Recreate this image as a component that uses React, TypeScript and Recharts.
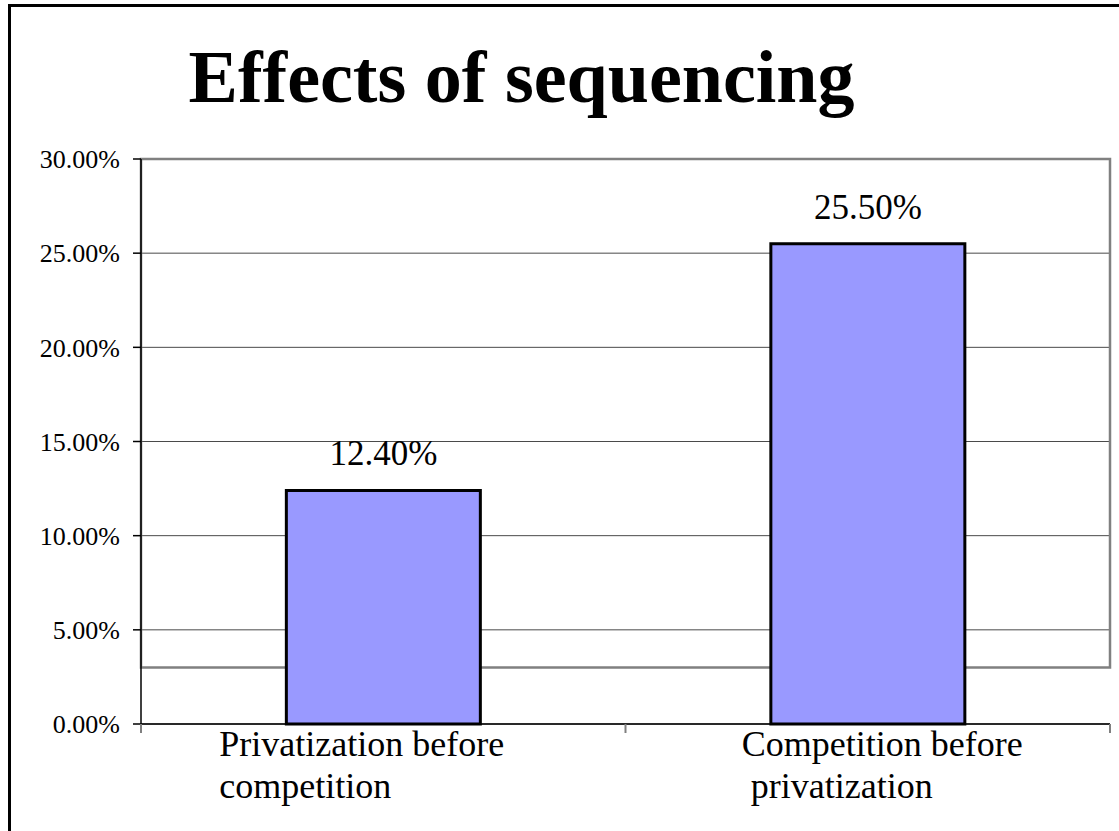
import React from 'react';
import { BarChart, Bar, XAxis, YAxis, CartesianGrid, ReferenceArea, LabelList } from 'recharts';

const title = 'Effects of sequencing';
const categories = ['Privatization before competition', 'Competition before privatization'];
const labelLine1 = ['Privatization before', 'Competition before'];
const labelLine2 = ['competition', ' privatization'];
const values = [12.4, 25.5];
const yTicks = [0, 5, 10, 15, 20, 25, 30];
const plotFrame = [3, 30];

const data = categories.map((c, i) => ({ name: c, value: values[i] }));

const FONT = '"Liberation Serif", "Times New Roman", serif';
const LABEL_SHIFT = [-164, -126];
const pct = (v: number) => `${Number(v).toFixed(2)}%`;

function CategoryTick(props: any) {
  const { x, y, payload, index, visibleTicksCount } = props;
  const half = payload && typeof payload.offset === 'number' ? payload.offset : 0;
  const i = index;
  const tx = x + LABEL_SHIFT[i];
  return (
    <g>
      <line x1={x - half} x2={x - half} y1={y} y2={y + 9} stroke="#808080" strokeWidth={2} />
      {i === visibleTicksCount - 1 && (
        <line x1={x + half} x2={x + half} y1={y} y2={y + 9} stroke="#808080" strokeWidth={2} />
      )}
      <text x={tx} y={y} fontFamily={FONT} fontSize={36} fill="#000" style={{ whiteSpace: 'pre' }}>
        <tspan x={tx} dy={32}>{labelLine1[i]}</tspan>
        <tspan x={tx} dy={42}>{labelLine2[i]}</tspan>
      </text>
    </g>
  );
}

export default function App() {
  return (
    <div style={{ position: 'absolute', left: 0, top: 0, width: 1119, height: 831, overflow: 'hidden', background: '#fff' }}>
      <div style={{ position: 'absolute', left: 8, top: 4, width: 1300, height: 1000, borderLeft: '3px solid #000', borderTop: '3px solid #000' }} />
      <div
        style={{
          position: 'absolute',
          left: 0,
          top: 40,
          width: 1043,
          textAlign: 'center',
          fontFamily: FONT,
          fontWeight: 'bold',
          fontSize: 74,
          lineHeight: '74px',
          color: '#000',
          whiteSpace: 'nowrap',
        }}
      >
        {title}
      </div>
      <div style={{ position: 'absolute', left: 0, top: 0 }}>
        <BarChart
          width={1119}
          height={831}
          data={data}
          margin={{ top: 159, right: 9, left: 0, bottom: 7 }}
          barCategoryGap="30%"
          style={{ fontFamily: FONT }}
        >
          <CartesianGrid vertical={false} stroke="#4a4a4a" strokeWidth={1} />
          <ReferenceArea
            y1={plotFrame[0]}
            y2={plotFrame[1]}
            fill="none"
            fillOpacity={0}
            stroke="#808080"
            strokeWidth={2.5}
          />
          <XAxis
            dataKey="name"
            interval={0}
            height={100}
            tickLine={false}
            tickSize={0}
            tickMargin={0}
            axisLine={{ stroke: '#000', strokeWidth: 1.5 }}
            tick={(p: any) => <CategoryTick {...p} />}
          />
          <YAxis
            width={141}
            domain={[0, 30]}
            ticks={yTicks}
            interval={0}
            tickFormatter={pct}
            tickSize={8}
            tickMargin={13}
            axisLine={{ stroke: '#000', strokeWidth: 1.5 }}
            tickLine={{ stroke: '#000', strokeWidth: 1.5 }}
            tick={{ fill: '#000', fontSize: 26, fontFamily: FONT }}
          />
          <Bar dataKey="value" fill="#9999FF" stroke="#000" strokeWidth={3} isAnimationActive={false}>
            <LabelList
              dataKey="value"
              position="top"
              offset={25}
              formatter={(v: any) => pct(v)}
              fill="#000"
              fontSize={35}
              fontFamily={FONT}
            />
          </Bar>
        </BarChart>
      </div>
    </div>
  );
}
